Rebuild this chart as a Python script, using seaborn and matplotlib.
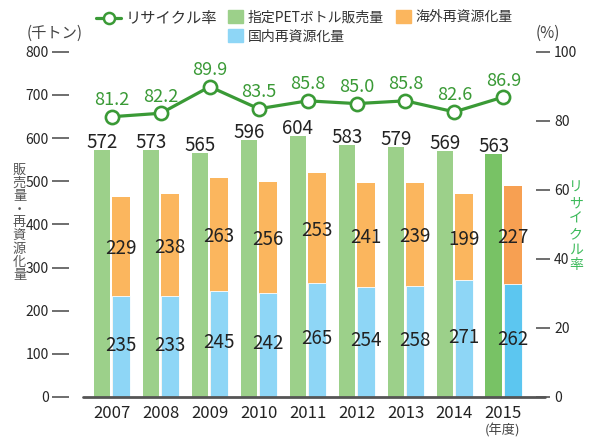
import matplotlib
matplotlib.use("Agg")
import matplotlib.pyplot as plt
import seaborn as sns
import numpy as np
import pandas as pd
from matplotlib.patches import Patch
from matplotlib.lines import Line2D

years = ["2007", "2008", "2009", "2010", "2011", "2012", "2013", "2014", "2015"]
sales = [572, 573, 565, 596, 604, 583, 579, 569, 563]
domestic = [235, 233, 245, 242, 265, 254, 258, 271, 262]
overseas = [229, 238, 263, 256, 253, 241, 239, 199, 227]
rate = [81.2, 82.2, 89.9, 83.5, 85.8, 85.0, 85.8, 82.6, 86.9]
left_ticks = [0, 100, 200, 300, 400, 500, 600, 700, 800]
right_ticks = [0, 20, 40, 60, 80, 100]
left_label = "販売量・再資源化量"
right_label = "リサイクル率"

sns.set_style("white")
FONT = ["Noto Sans CJK JP", "DejaVu Sans"]
plt.rcParams["font.family"] = FONT

GREEN = "#9cd08a"; GREEN2 = "#78c265"
BLUE = "#8ed6f6"; BLUE2 = "#5cc6f0"
ORANGE = "#fbb65e"; ORANGE2 = "#f7a052"
LINE = "#3a9a36"

W, H = 595, 443
idx = np.arange(len(years))
df = pd.DataFrame({"year": years, "sales": sales, "domestic": domestic,
                   "overseas": overseas, "rate": rate})
df["total"] = df["domestic"] + df["overseas"]
df["xg"] = idx - 0.20
df["xs"] = idx + 0.19

pal_g = {y: (GREEN2 if y == "2015" else GREEN) for y in years}
pal_b = {y: (BLUE2 if y == "2015" else BLUE) for y in years}
pal_o = {y: (ORANGE2 if y == "2015" else ORANGE) for y in years}

fig = plt.figure(figsize=(5.95, 4.43), dpi=100)
ax = fig.add_axes([0.147, 0.104, 0.74, 0.779])

sns.barplot(data=df, x="xg", y="sales", hue="year", palette=pal_g, native_scale=True,
            width=0.33, legend=False, ax=ax, saturation=1, linewidth=0)
sns.barplot(data=df, x="xs", y="total", hue="year", palette=pal_o, native_scale=True,
            width=0.37, legend=False, ax=ax, saturation=1, linewidth=0)
sns.barplot(data=df, x="xs", y="domestic", hue="year", palette=pal_b, native_scale=True,
            width=0.37, legend=False, ax=ax, saturation=1, linewidth=0.6, edgecolor="white")

ax.set_xlim(-0.5, len(years) - 0.5)
ax.set_ylim(0, 800)
ax.set_xticks(idx)
ax.set_xticklabels(years, fontsize=12, color="#222222")
ax.set_yticks(left_ticks)
ax.set_yticklabels([str(t) for t in left_ticks], fontsize=11.5, color="#444444")
ax.set_xlabel(""); ax.set_ylabel("")
for s in ["top", "right", "left", "bottom"]:
    ax.spines[s].set_visible(False)
ax.spines["left"].set_position(("outward", 13))
ax.tick_params(axis="y", left=True, length=12, width=1.2, color="#555555", pad=3)
ax.tick_params(axis="x", bottom=False, pad=2)
ax.plot([-0.01, 1.04], [0, 0], transform=ax.transAxes, clip_on=False,
        color="#555555", lw=2, zorder=5)

for i in idx:
    ax.text(i - 0.20, sales[i] + 5, str(sales[i]), ha="center", va="baseline",
            fontsize=13.5, color="#222222")
    ax.text(i + 0.19, domestic[i] + overseas[i] / 2 - 18, str(overseas[i]), ha="center",
            va="baseline", fontsize=13.5, color="#222222")
    ax.text(i + 0.19, domestic[i] / 2 - 10, str(domestic[i]), ha="center",
            va="baseline", fontsize=13.5, color="#222222")

ax2 = ax.twinx()
sns.lineplot(x=idx, y=rate, ax=ax2, color=LINE, lw=2.3, marker="o", markersize=9.5,
             markerfacecolor="white", markeredgecolor=LINE, markeredgewidth=1.9)
ax2.set_ylim(0, 100)
ax2.set_yticks(right_ticks)
ax2.set_yticklabels([str(t) for t in right_ticks], fontsize=11.5, color="#444444")
for s in ["top", "right", "left", "bottom"]:
    ax2.spines[s].set_visible(False)
ax2.spines["right"].set_position(("outward", 6))
ax2.tick_params(axis="y", right=True, length=10, width=1.2, color="#555555", pad=3)
for i in idx:
    ax2.text(i, rate[i] + 3.3, f"{rate[i]:.1f}", ha="center", va="baseline",
             fontsize=13, color=LINE)

fig.text(0.092, 0.925, "(千トン)", ha="center", va="center", fontsize=11, color="#444444")
fig.text(0.92, 0.925, "(%)", ha="center", va="center", fontsize=11, color="#444444")
fig.text(0.845, 0.028, "(年度)", ha="center", va="center", fontsize=9.5, color="#444444")

# vertical (stacked) axis titles, one character per row
for k, ch in enumerate(left_label):
    fig.text(19.5 / W, 1 - (170 + 13.25 * k) / H, ch, ha="center", va="center",
             fontsize=9.5, color="#555555")
for k, ch in enumerate(right_label):
    fig.text(576 / W, 1 - (187.5 + 15.6 * k) / H, ch, ha="center", va="center",
             fontsize=10, color="#3cba5a")

h_line = [Line2D([0], [0], color=LINE, lw=2.3, marker="o", markersize=8,
                 markerfacecolor="white", markeredgecolor=LINE, markeredgewidth=1.8)]
leg1 = fig.legend(h_line, ["リサイクル率"], loc="center left", bbox_to_anchor=(0.162, 0.958),
                  frameon=False, fontsize=11, handlelength=1.6, handletextpad=0.3,
                  borderaxespad=0, borderpad=0)
for t in leg1.get_texts():
    t.set_color("#333333")
h_bar = [Patch(color=GREEN), Patch(color=BLUE), Patch(color=ORANGE)]
leg2 = fig.legend(h_bar, ["指定PETボトル販売量", "国内再資源化量", "海外再資源化量"],
                  loc="upper left", bbox_to_anchor=(0.383, 0.978), ncol=2, frameon=False,
                  fontsize=10, handlelength=1.1, handleheight=1.1, handletextpad=0.3,
                  columnspacing=0.9, labelspacing=0.35, borderaxespad=0, borderpad=0)
for t in leg2.get_texts():
    t.set_color("#333333")

fig.savefig("out.png", dpi=100)
